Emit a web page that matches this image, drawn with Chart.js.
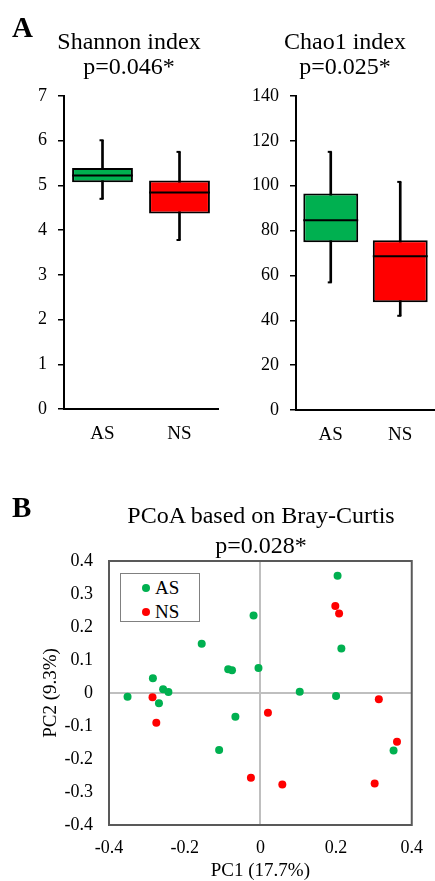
<!DOCTYPE html>
<html>
<head>
<meta charset="utf-8">
<script src="https://cdn.jsdelivr.net/npm/chart.js@4.4.0/dist/chart.umd.min.js"></script>
<style>
  body { margin: 0; background: #fff; }
  #page { position: relative; width: 435px; height: 881px; overflow: hidden;
          font-family: "Liberation Serif", "Times New Roman", serif; color: #000; }
  canvas { position: absolute; }
  .lbl { position: absolute; white-space: nowrap; }
  .panel { font-weight: bold; font-size: 29px; line-height: 29px; }
  .ttl { font-size: 24px; text-align: center; width: 240px; }
  #legend { position: absolute; left: 120px; top: 573px; width: 80px; height: 49px;
            box-sizing: border-box; border: 1.5px solid #808080; background: #fff; }
  .row { position: absolute; left: 0; height: 20px; line-height: 20px; font-size: 19px; }
  .dot { position: absolute; left: 21px; top: 6px; width: 8px; height: 8px; border-radius: 50%; }
  .row span.t { position: absolute; left: 34px; }
</style>
</head>
<body>
<div id="page">
  <canvas id="shannon" width="220" height="460" style="left:0;top:0"></canvas>
  <canvas id="chao" width="215" height="460" style="left:220px;top:0"></canvas>
  <canvas id="pcoa" width="435" height="391" style="left:0;top:490px"></canvas>

  <div class="lbl panel" style="left:12px;top:13px">A</div>
  <div class="lbl panel" style="left:12px;top:493px">B</div>
  <div class="lbl ttl" style="left:9px;top:29px;line-height:25px">Shannon index<br>p=0.046*</div>
  <div class="lbl ttl" style="left:225px;top:29px;line-height:25px">Chao1 index<br>p=0.025*</div>
  <div class="lbl ttl" style="left:111px;top:500px;width:300px;line-height:30px">PCoA based on Bray-Curtis<br>p=0.028*</div>

  <div id="legend">
    <div class="row" style="top:4px"><div class="dot" style="background:#00b050"></div><span class="t">AS</span></div>
    <div class="row" style="top:28px"><div class="dot" style="background:#ff0000"></div><span class="t">NS</span></div>
  </div>
</div>
<script>
  // groups
  const groups = ["AS", "NS"];
  const boxColors = ["#00b050", "#ff0000"];

  // Shannon index box stats
  const shannonMin = [4.70, 3.78];
  const shannonQ1 = [5.07, 4.37];
  const shannonMed = [5.22, 4.84];
  const shannonQ3 = [5.39, 5.11];
  const shannonMax = [6.01, 5.75];

  // Chao1 index box stats
  const chaoMin = [56.9, 42.0];
  const chaoQ1 = [74.8, 48.0];
  const chaoMed = [84.6, 68.6];
  const chaoQ3 = [96.5, 75.7];
  const chaoMax = [115.1, 101.7];

  // PCoA coordinates
  const asX = [0.204, -0.018, 0.214, -0.005, 0.104, 0.200, -0.155, -0.085, -0.075, -0.284, -0.257, -0.243, -0.351, -0.268, -0.066, -0.109, 0.352];
  const asY = [0.355, 0.235, 0.135, 0.076, 0.004, -0.009, 0.149, 0.072, 0.069, 0.045, 0.011, 0.003, -0.011, -0.031, -0.072, -0.173, -0.174];
  const nsX = [0.198, 0.208, 0.313, 0.020, -0.285, -0.275, -0.025, 0.058, 0.302, 0.361];
  const nsY = [0.264, 0.241, -0.019, -0.060, -0.013, -0.090, -0.257, -0.277, -0.274, -0.148];

  Chart.defaults.font.family = '"Liberation Serif", "Times New Roman", serif';
  Chart.defaults.font.size = 18;
  Chart.defaults.color = "#000";

  // median lines and whisker caps for the box charts
  const boxExtras = {
    id: "boxExtras",
    afterDatasetsDraw(chart, args, opts) {
      const ctx = chart.ctx;
      const y = chart.scales.y;
      const boxMeta = chart.getDatasetMeta(1);
      ctx.save();
      ctx.strokeStyle = "#000";
      ctx.lineWidth = 2;
      opts.medians.forEach((m, i) => {
        const bar = boxMeta.data[i];
        const yy = y.getPixelForValue(m);
        ctx.beginPath();
        ctx.moveTo(bar.x - bar.width / 2, yy);
        ctx.lineTo(bar.x + bar.width / 2, yy);
        ctx.stroke();
        [opts.mins[i], opts.maxs[i]].forEach(v => {
          const yc = y.getPixelForValue(v);
          ctx.beginPath();
          ctx.moveTo(bar.x - 3, yc);
          ctx.lineTo(bar.x + 1, yc);
          ctx.stroke();
        });
      });
      ctx.restore();
    }
  };

  function makeBoxChart(id, mins, q1, med, q3, maxs, yMax, step, yWidth, xHeight, padRight) {
    new Chart(document.getElementById(id), {
      type: "bar",
      data: {
        labels: groups,
        datasets: [
          {
            data: groups.map((g, i) => [mins[i], maxs[i]]),
            backgroundColor: "#000",
            barThickness: 2,
            grouped: false,
            order: 2,
          },
          {
            data: groups.map((g, i) => [q1[i], q3[i]]),
            backgroundColor: boxColors,
            borderColor: "#000",
            borderWidth: 2,
            borderSkipped: false,
            barPercentage: 0.79,
            categoryPercentage: 1,
            grouped: false,
            order: 1,
          },
        ],
      },
      options: {
        responsive: false,
        animation: false,
        layout: { padding: { top: 96, left: 0, right: padRight, bottom: 0 } },
        plugins: {
          legend: { display: false },
          tooltip: { enabled: false },
          boxExtras: { medians: med, mins: mins, maxs: maxs },
        },
        scales: {
          x: {
            grid: { display: false, drawTicks: false },
            border: { display: true, color: "#000", width: 2 },
            ticks: { padding: 14, font: { size: 19 } },
            afterFit: (s) => { s.height = xHeight; },
          },
          y: {
            min: 0,
            max: yMax,
            ticks: { stepSize: step, padding: 11 },
            grid: { drawOnChartArea: false, drawTicks: true, tickLength: 6, color: "#000", lineWidth: 1.5 },
            border: { display: true, color: "#000", width: 2 },
            afterFit: (s) => { s.width = yWidth; },
          },
        },
      },
      plugins: [boxExtras],
    });
  }

  makeBoxChart("shannon", shannonMin, shannonQ1, shannonMed, shannonQ3, shannonMax, 7, 1, 64, 51, 2);
  makeBoxChart("chao", chaoMin, chaoQ1, chaoMed, chaoQ3, chaoMax, 140, 20, 76, 50, 0);

  // frame around the PCoA plot area
  const frame = {
    id: "frame",
    beforeDatasetsDraw(chart) {
      const { ctx, chartArea: a } = chart;
      ctx.save();
      ctx.strokeStyle = "#595959";
      ctx.lineWidth = 2;
      ctx.strokeRect(a.left, a.top, a.right - a.left, a.bottom - a.top);
      ctx.restore();
    }
  };

  const zeroLine = (c) => (c.tick && c.tick.value === 0 ? "#bfbfbf" : "rgba(0,0,0,0)");

  new Chart(document.getElementById("pcoa"), {
    type: "scatter",
    data: {
      datasets: [
        {
          label: "AS",
          data: asX.map((x, i) => ({ x: x, y: asY[i] })),
          backgroundColor: "#00b050",
          borderWidth: 0,
          pointRadius: 4,
        },
        {
          label: "NS",
          data: nsX.map((x, i) => ({ x: x, y: nsY[i] })),
          backgroundColor: "#ff0000",
          borderWidth: 0,
          pointRadius: 4,
        },
      ],
    },
    options: {
      responsive: false,
      animation: false,
      layout: { padding: { top: 71, left: 40, right: 12, bottom: 0 } },
      plugins: { legend: { display: false }, tooltip: { enabled: false } },
      scales: {
        x: {
          min: -0.4,
          max: 0.4,
          ticks: { stepSize: 0.2, padding: 12 },
          grid: { color: zeroLine, lineWidth: 2, drawTicks: false },
          border: { display: false },
          title: { display: true, text: "PC1 (17.7%)", padding: 0, font: { size: 19, lineHeight: 1 } },
          afterFit: (s) => { s.height = 56; },
        },
        y: {
          min: -0.4,
          max: 0.4,
          ticks: { stepSize: 0.1, padding: 16 },
          grid: { color: zeroLine, lineWidth: 2, drawTicks: false },
          border: { display: false },
          title: { display: true, text: "PC2 (9.3%)", padding: 0, font: { size: 19 } },
          afterFit: (s) => { s.width = 69; },
        },
      },
    },
    plugins: [frame],
  });
</script>
</body>
</html>
